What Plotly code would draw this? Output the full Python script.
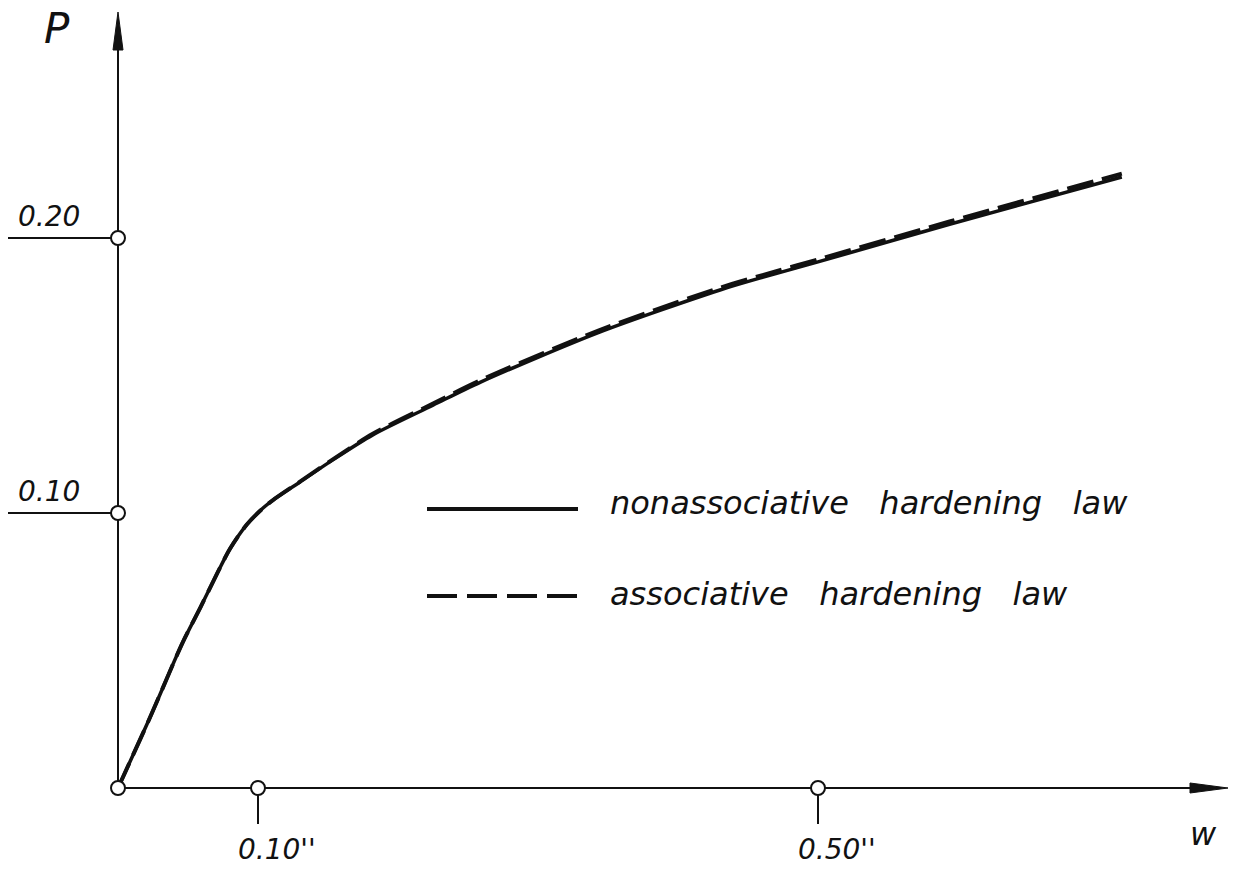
import plotly.graph_objects as go

# ---- data ----
w_nonassoc = [0, 0.023, 0.046, 0.059, 0.071, 0.080, 0.092, 0.1036, 0.1107, 0.130, 0.154,
              0.182, 0.225, 0.259, 0.344, 0.430, 0.459, 0.500, 0.594, 0.717]
p_nonassoc = [0, 0.0258, 0.0527, 0.0658, 0.0782, 0.0870, 0.0958, 0.1018, 0.1047, 0.1113, 0.1195,
              0.1284, 0.1392, 0.1476, 0.1658, 0.1811, 0.1855, 0.1913, 0.2050, 0.2222]
w_assoc = [0, 0.023, 0.046, 0.059, 0.071, 0.080, 0.092, 0.1036, 0.1107, 0.130, 0.154,
           0.182, 0.225, 0.259, 0.344, 0.430, 0.459, 0.500, 0.594, 0.717]
p_assoc = [0, 0.0258, 0.0527, 0.0658, 0.0782, 0.0870, 0.0958, 0.1018, 0.1047, 0.1114, 0.1197,
           0.1288, 0.1398, 0.1483, 0.1665, 0.1819, 0.1863, 0.1922, 0.2060, 0.2234]

x_ticks = [0.10, 0.50]
x_tick_labels = ["0.10''", "0.50''"]
y_ticks = [0.10, 0.20]
y_tick_labels = ["0.10", "0.20"]
series_names = ["nonassociative hardening law", "associative hardening law"]
x_axis_title = "w"
y_axis_title = "P"

# ---- geometry ----
W, H = 1249, 871
X0_PX, Y0_PX = 118, 788          # pixel of origin
SX, SY = 1400.0, 2750.0          # pixels per data unit
X_MIN = -X0_PX / SX
X_MAX = (W - X0_PX) / SX
Y_MAX = Y0_PX / SY
Y_MIN = -(H - Y0_PX) / SY
X_END = (1228 - X0_PX) / SX      # arrow tip of w axis
Y_END = (Y0_PX - 12) / SY        # arrow tip of P axis
FONT = "DejaVu Sans"
INK = "#111111"


def px(x):
    return x / W


def py(y):
    return 1 - y / H


fig = go.Figure()

# axes lines
fig.add_trace(go.Scatter(x=[0, 0], y=[0, Y_END - 30 / SY], mode="lines",
                         line=dict(color=INK, width=2), hoverinfo="skip", showlegend=False))
fig.add_trace(go.Scatter(x=[0, X_END - 30 / SX], y=[0, 0], mode="lines",
                         line=dict(color=INK, width=2), hoverinfo="skip", showlegend=False))
# arrow heads
fig.add_trace(go.Scatter(x=[0, -5 / SX, 5 / SX, 0], y=[Y_END, Y_END - 38 / SY, Y_END - 38 / SY, Y_END],
                         mode="lines", fill="toself", fillcolor=INK, line=dict(color=INK, width=1),
                         hoverinfo="skip", showlegend=False))
fig.add_trace(go.Scatter(x=[X_END, X_END - 38 / SX, X_END - 38 / SX, X_END], y=[0, 5 / SY, -5 / SY, 0],
                         mode="lines", fill="toself", fillcolor=INK, line=dict(color=INK, width=1),
                         hoverinfo="skip", showlegend=False))

# y tick leader lines
for yt in y_ticks:
    fig.add_trace(go.Scatter(x=[(8 - X0_PX) / SX, 0], y=[yt, yt], mode="lines",
                             line=dict(color=INK, width=2), hoverinfo="skip", showlegend=False))
# x tick stems
for xt in x_ticks:
    fig.add_trace(go.Scatter(x=[xt, xt], y=[0, -36 / SY], mode="lines",
                             line=dict(color=INK, width=2), hoverinfo="skip", showlegend=False))

# curves
fig.add_trace(go.Scatter(x=w_nonassoc, y=p_nonassoc, mode="lines", name=series_names[0],
                         line=dict(color=INK, width=3.5, shape="spline", smoothing=0.8),
                         showlegend=False))
fig.add_trace(go.Scatter(x=w_assoc, y=p_assoc, mode="lines", name=series_names[1],
                         line=dict(color=INK, width=4, shape="spline", smoothing=0.8, dash="27px,9px"),
                         showlegend=False))

# open circles at origin and ticks
fig.add_trace(go.Scatter(x=[0] + x_ticks + [0] * len(y_ticks), y=[0] + [0] * len(x_ticks) + y_ticks,
                         mode="markers",
                         marker=dict(symbol="circle", size=14, color="white", line=dict(color=INK, width=2)),
                         hoverinfo="skip", showlegend=False))

annotations = []
tick_font = dict(family=FONT, size=28, color=INK)
for yt, lab in zip(y_ticks, y_tick_labels):
    annotations.append(dict(x=px(49), y=yt, xref="paper", yref="y", yshift=22,
                            text=f"<i>{lab}</i>", showarrow=False, font=tick_font,
                            xanchor="center", yanchor="middle"))
for xt, lab in zip(x_ticks, x_tick_labels):
    annotations.append(dict(x=xt, y=py(849), xref="x", yref="paper", xshift=19,
                            text=f"<i>{lab}</i>", showarrow=False, font=tick_font,
                            xanchor="center", yanchor="middle"))
annotations.append(dict(x=px(1203), y=py(834), xref="paper", yref="paper",
                        text=f"<i>{x_axis_title}</i>", showarrow=False,
                        font=dict(family=FONT, size=32, color=INK), xanchor="center", yanchor="middle"))
annotations.append(dict(x=px(57), y=py(28), xref="paper", yref="paper",
                        text=f"<i>{y_axis_title}</i>", showarrow=False,
                        font=dict(family=FONT, size=42, color=INK), xanchor="center", yanchor="middle"))

# legend
leg_font = dict(family=FONT, size=32, color=INK)
leg_rows = [(509, 503, "solid"), (596, 594, "30px,10px")]
shapes = []
for (yy, ty, dash), name in zip(leg_rows, series_names):
    shapes.append(dict(type="line", xref="paper", yref="paper", x0=px(427), x1=px(578),
                       y0=py(yy), y1=py(yy), line=dict(color=INK, width=4, dash=dash)))
    annotations.append(dict(x=px(608), y=py(ty), xref="paper", yref="paper",
                            text=f"<i>{name.replace(' ', '   ')}</i>", showarrow=False,
                            font=leg_font, xanchor="left", yanchor="middle"))

fig.update_layout(
    width=W, height=H,
    margin=dict(l=0, r=0, t=0, b=0),
    paper_bgcolor="white", plot_bgcolor="white",
    xaxis=dict(range=[X_MIN, X_MAX], visible=False, fixedrange=True),
    yaxis=dict(range=[Y_MIN, Y_MAX], visible=False, fixedrange=True),
    annotations=annotations, shapes=shapes,
    showlegend=False,
)

fig.write_html("out.html")
